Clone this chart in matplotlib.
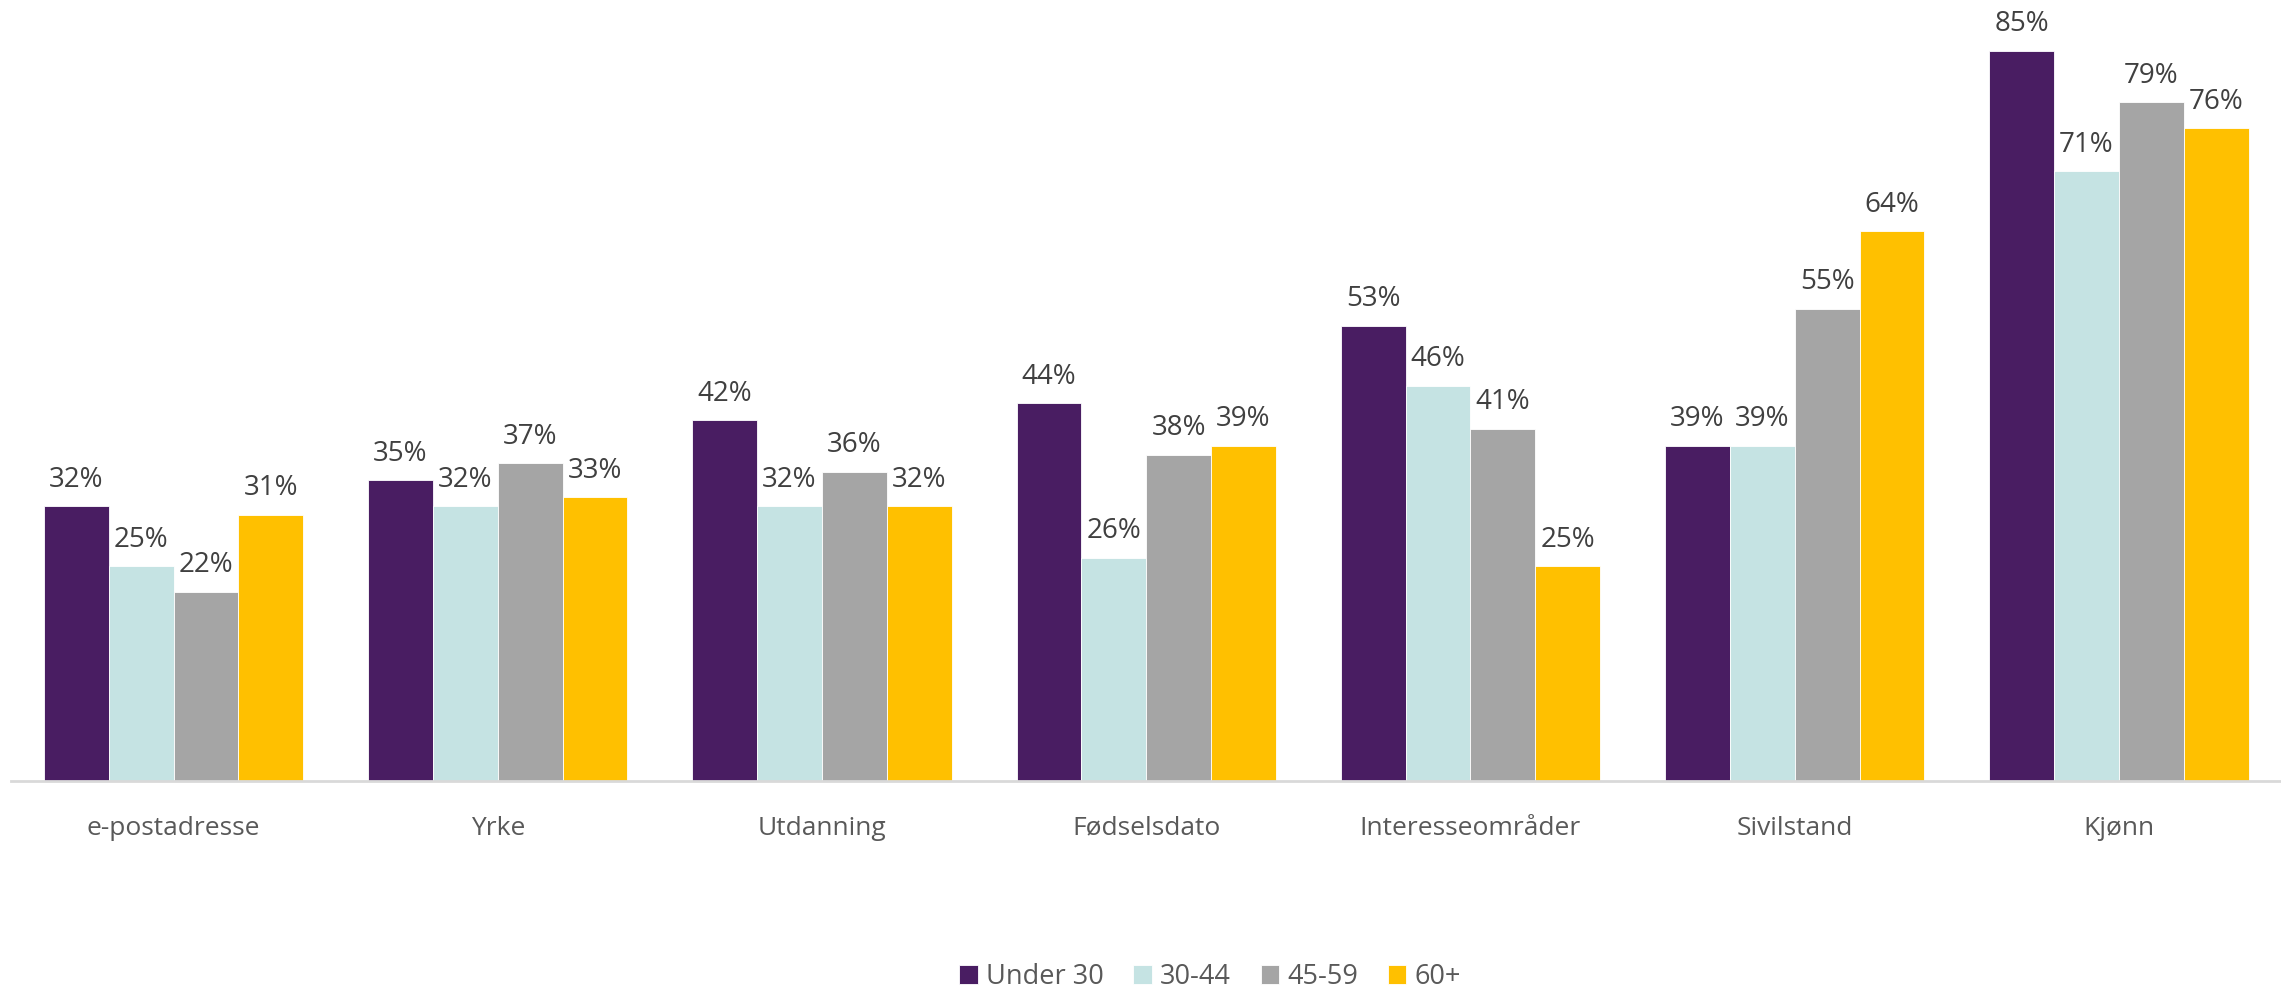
import numpy as np
import matplotlib.pyplot as plt

# Data
categories = ["e-postadresse", "Yrke", "Utdanning", "Fødselsdato",
              "Interesseområder", "Sivilstand", "Kjønn"]
groups = ["Under 30", "30-44", "45-59", "60+"]
under_30 = [32, 35, 42, 44, 53, 39, 85]
age_30_44 = [25, 32, 32, 26, 46, 39, 71]
age_45_59 = [22, 37, 36, 38, 41, 55, 79]
age_60_plus = [31, 33, 32, 39, 25, 64, 76]
series = [under_30, age_30_44, age_45_59, age_60_plus]
colors = ["#491D62", "#C5E3E3", "#A5A5A5", "#FFC000"]

plt.rcParams['font.family'] = ['Open Sans', 'DejaVu Sans']

fig = plt.figure(figsize=(22.81, 9.91), dpi=100)
ax = fig.add_axes([0.005, 0.212, 0.995, 0.780])

x = np.arange(len(categories))
width = 0.2
for i, (vals, name, col) in enumerate(zip(series, groups, colors)):
    pos = x + (i - 1.5) * width
    bars = ax.bar(pos, vals, width, color=col, label=name,
                  edgecolor='white', linewidth=0.6)
    for b, v in zip(bars, vals):
        ax.annotate(f"{v}%", (b.get_x() + b.get_width() / 2, v),
                    xytext=(0, 9), textcoords='offset points',
                    ha='center', va='bottom', fontsize=20, color='#404040')

ax.set_xlim(-0.5, len(categories) - 0.5)
ax.set_ylim(0, 90)
ax.set_xticks(x)
ax.set_xticklabels(categories, fontsize=19, color='#595959')
ax.tick_params(axis='x', length=0, pad=25)
ax.set_yticks([])
for side in ['top', 'right', 'left']:
    ax.spines[side].set_visible(False)
ax.spines['bottom'].set_color('#D9D9D9')
ax.spines['bottom'].set_linewidth(2)

fig.legend(loc='center', bbox_to_anchor=(0.5305, 0.0141), ncol=4,
           frameon=False, fontsize=19.5, labelcolor='#595959',
           handlelength=0.68, handleheight=0.68, handletextpad=0.3,
           columnspacing=1.1, borderpad=0, borderaxespad=0)

fig.savefig("out.png", dpi=100)
